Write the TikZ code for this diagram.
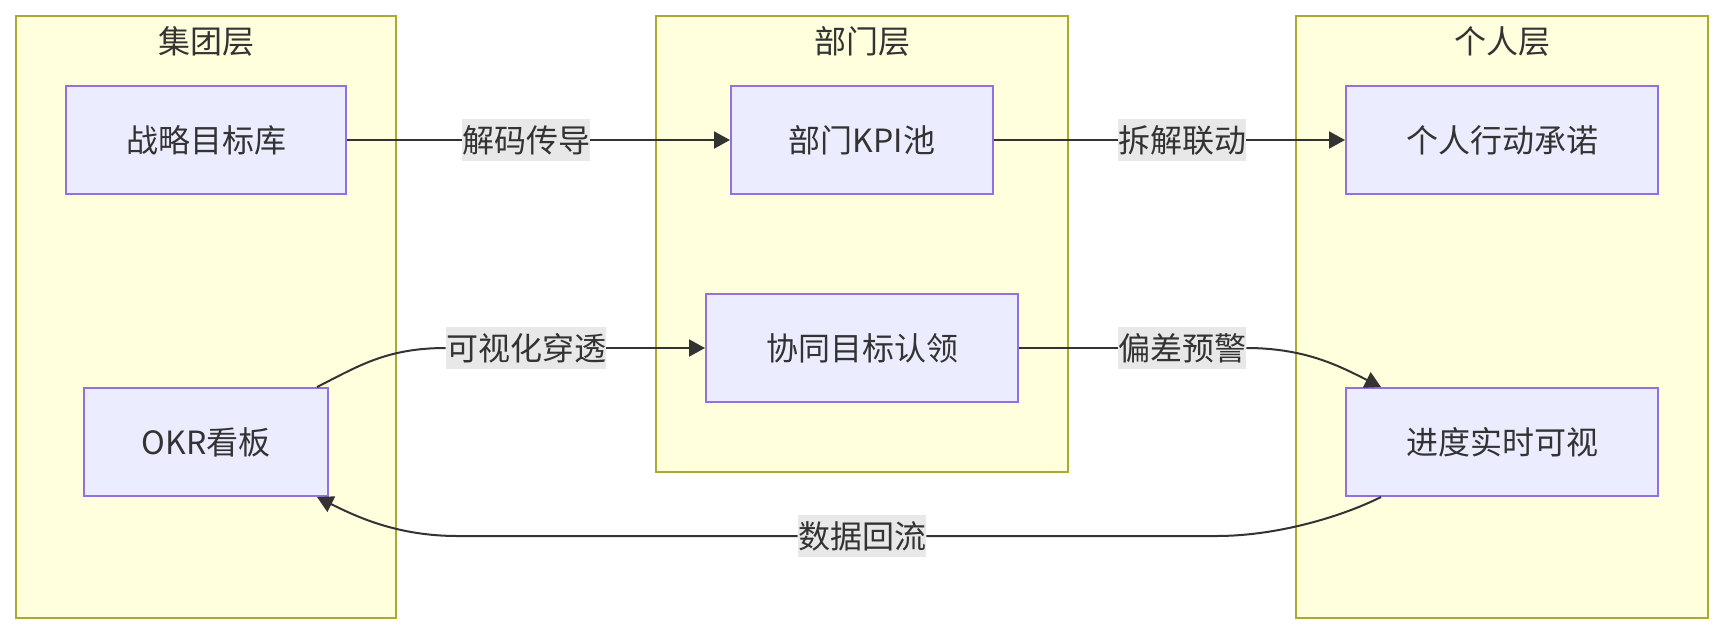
\documentclass[tikz,border=0pt]{standalone}
\usepackage{fontspec}
\usepackage{xcolor}
\usepackage{tikz}
\usetikzlibrary{arrows.meta,calc}
\newfontfamily\cjk{Noto Sans CJK SC}
\definecolor{grpfill}{HTML}{FFFFDE}
\definecolor{grpline}{HTML}{AAAA33}
\definecolor{boxfill}{HTML}{ECECFF}
\definecolor{boxline}{HTML}{9370DB}
\definecolor{txt}{HTML}{333333}
\definecolor{lblbg}{HTML}{E8E8E8}

\begin{document}
\begin{tikzpicture}[
  x=0.5pt,y=-0.5pt,
  grp/.style={draw=grpline,fill=grpfill,line width=1pt},
  ttl/.style={font=\cjk\fontsize{16pt}{19pt}\selectfont,text=txt,inner sep=0pt,text height=12pt,text depth=0pt},
  bx/.style={draw=boxline,fill=boxfill,line width=1pt,minimum height=54pt,inner xsep=0pt,minimum width=#1,
    font=\cjk\fontsize{16pt}{19pt}\selectfont,text=txt,text height=12pt,text depth=0pt},
  lbl/.style={fill=lblbg,inner sep=0pt,text height=16.5pt,text depth=4.5pt,
    font=\cjk\fontsize{16pt}{19pt}\selectfont,text=txt},
  ln/.style={draw=txt,line width=1pt},
  arr/.style={ln,-{Triangle[length=8pt,width=8.5pt]}}
]
\useasboundingbox (0,0) rectangle (1724,634);
% layers
\draw[grp] (16,16) rectangle (396,618);
\draw[grp] (656,16) rectangle (1068,472);
\draw[grp] (1296,16) rectangle (1708,618);
\node[ttl] (t1) at (206,41)  {集团层};
\node[ttl] (t2) at (862,41)  {部门层};
\node[ttl] (t3) at (1502,41) {个人层};
% boxes
\node[bx=140pt] (sl)  at (206,140)  {战略目标库};
\node[bx=122pt] (okr) at (206,442)  {OKR看板};
\node[bx=131pt] (kpi) at (862,140)  {部门KPI池};
\node[bx=156pt] (xt)  at (862,348)  {协同目标认领};
\node[bx=156pt] (gr)  at (1502,140) {个人行动承诺};
\node[bx=156pt] (jd)  at (1502,442) {进度实时可视};
% edge labels
\node[lbl] (lb1) at (526,140)  {解码传导};
\node[lbl] (lb2) at (1182,140) {拆解联动};
\node[lbl] (lb3) at (526,348)  {可视化穿透};
\node[lbl] (lb4) at (1182,348) {偏差预警};
\node[lbl] (lb5) at (862,536)  {数据回流};
% edges
\draw[ln] (sl.east) -- (lb1.west);
\draw[arr] (lb1.east) -- (kpi.west);
\draw[ln] (kpi.east) -- (lb2.west);
\draw[arr] (lb2.east) -- (gr.west);
\draw[ln] ([xshift=-6pt]okr.north east) .. controls +(40,-20) and +(-60,0) .. (lb3.west);
\draw[arr] (lb3.east) -- (xt.west);
\draw[ln] (xt.east) -- (lb4.west);
\draw[arr] (lb4.east) .. controls +(60,0) and +(-40,-20) .. ([xshift=18pt]jd.north west);
\draw[ln] ([xshift=18pt]jd.south west) .. controls +(-40,20) and +(60,0) .. ($(lb5.east)+(290,0)$) -- (lb5.east);
\draw[arr] (lb5.west) -- ($(lb5.west)+(-340,0)$) .. controls +(-60,0) and +(40,20) .. ([xshift=-6pt]okr.south east);
\end{tikzpicture}
\end{document}
